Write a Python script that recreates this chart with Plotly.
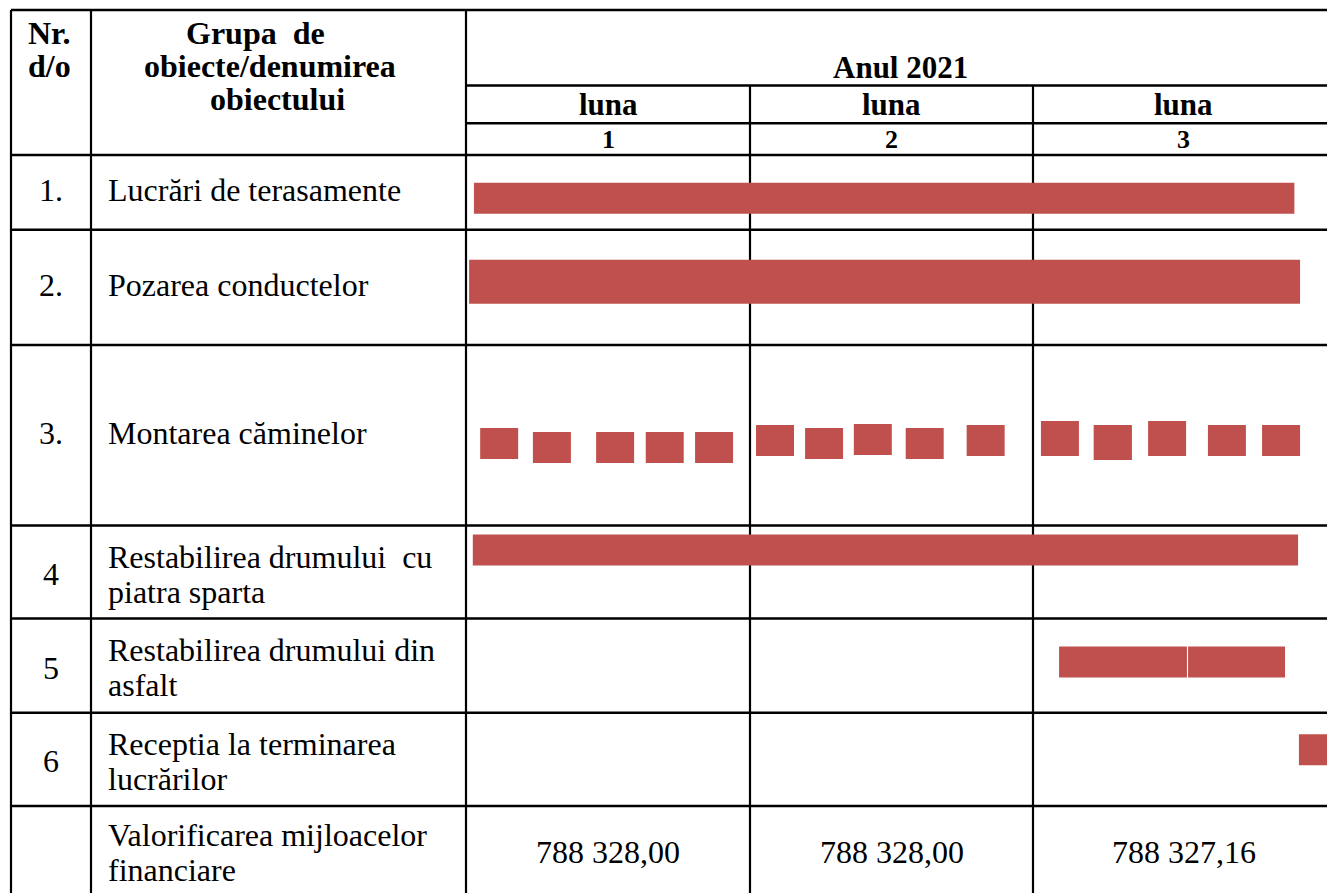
import plotly.graph_objects as go

# ---------------- data ----------------
nr_labels = ["1.", "2.", "3.", "4", "5", "6", ""]
task_names = [
    ["Lucrări de terasamente"],
    ["Pozarea conductelor"],
    ["Montarea căminelor"],
    ["Restabilirea drumului  cu", "piatra sparta"],
    ["Restabilirea drumului din", "asfalt"],
    ["Receptia la terminarea", "lucrărilor"],
    ["Valorificarea mijloacelor", "financiare"],
]
year_label = "Anul 2021"
month_word = "luna"
month_numbers = ["1", "2", "3"]
monthly_values = ["788 328,00", "788 328,00", "788 327,16"]

# task bars: (row index, start month, end month)  (months counted from 0)
bar_rows = [0, 1,
            2, 2, 2, 2, 2, 2, 2, 2, 2, 2, 2, 2, 2, 2, 2,
            3, 4, 4, 5]
bar_start = [0.028, 0.011,
             0.050, 0.236, 0.459, 0.634, 0.808,
             1.023, 1.196, 1.368, 1.551, 1.766,
             2.028, 2.214, 2.406, 2.617, 2.808,
             0.024, 2.092, 2.547, 2.938]
bar_end = [2.922, 2.942,
           0.184, 0.370, 0.593, 0.768, 0.942,
           1.157, 1.330, 1.502, 1.685, 1.900,
           2.162, 2.349, 2.540, 2.751, 2.942,
           2.935, 2.543, 2.889, 3.060]

# ---------------- layout geometry (pixels) ----------------
W, H = 1327, 893
col_x = [11, 91, 466, 750, 1033, 1334]
row_y = [155, 229.7, 345, 525.5, 618.5, 712.7, 806, 893]
hdr_y = [10, 85.5, 123.3, 155]
month_w = 283.5
m0 = col_x[2]

# bar vertical placement (offset from row centre, thickness) per bar
bar_dy = [6, -5.5,
          8.25, 12.25, 12.25, 12.25, 12.25,
          5.25, 8.25, 4.25, 8.25, 5.25,
          3.25, 7.25, 3.25, 5.25, 5.25,
          -22, -3.5, -3.5, -9.5]
bar_h = [31, 44,
         31, 31, 31, 31, 31,
         31, 31, 31, 31, 31,
         35, 35, 35, 31, 31,
         31, 31, 31, 31]

row_c = [(row_y[i] + row_y[i + 1]) / 2 for i in range(len(row_y) - 1)]

fig = go.Figure()
fig.add_trace(go.Bar(
    orientation="h",
    base=bar_start,
    x=[e - s for s, e in zip(bar_start, bar_end)],
    y=[row_c[r] + d for r, d in zip(bar_rows, bar_dy)],
    width=bar_h,
    marker=dict(color="#C0504D", line=dict(width=0)),
    xaxis="x2", yaxis="y",
    hoverinfo="skip", showlegend=False,
))

shapes = []
def hline(y, x0, x1, w=2.5):
    shapes.append(dict(type="line", xref="x", yref="y", x0=x0, x1=x1, y0=y, y1=y,
                       line=dict(color="black", width=w), layer="above"))
def vline(x, y0, y1, w=2.2):
    shapes.append(dict(type="line", xref="x", yref="y", x0=x, x1=x, y0=y0, y1=y1,
                       line=dict(color="black", width=w), layer="below"))

hline(hdr_y[0], col_x[0], W + 10)
hline(hdr_y[1], col_x[2], W + 10)
hline(hdr_y[2], col_x[2], W + 10)
for y in row_y[:-1]:
    hline(y, col_x[0], W + 10)
for x in col_x[:3]:
    vline(x, hdr_y[0], H + 5)
for x in col_x[3:5]:
    vline(x, hdr_y[1], H + 5)

ann = []
serif = "Liberation Serif, Times New Roman, serif"
def text(x, y, s, size=32, bold=False, xanchor="center"):
    ann.append(dict(x=x, y=y, xref="x", yref="y", text=("<b>%s</b>" % s) if bold else s,
                    showarrow=False, xanchor=xanchor, yanchor="middle",
                    font=dict(family=serif, size=size, color="black")))

# header
text(26, 33, "Nr.", size=32, bold=True, xanchor="left")
text(26, 66, "d/o", size=32, bold=True, xanchor="left")
text(255, 33, "Grupa&nbsp;&nbsp;de", size=32, bold=True)
text(270, 66, "obiecte/denumirea", size=32, bold=True)
text(277, 99, "obiectului", size=32, bold=True)
month_c = [(col_x[i] + col_x[i + 1]) / 2 for i in range(2, 5)]
text((col_x[2] + col_x[5]) / 2, 67, year_label, size=31, bold=True)
for c, n in zip(month_c, month_numbers):
    text(c, 104, month_word, size=31, bold=True)
    text(c, 139, n, size=26, bold=True)

# body
line_gap = 35
for i, (nr, lines) in enumerate(zip(nr_labels, task_names)):
    c = row_c[i] + (-2 if i < 3 else 2)
    if i == 6:
        c = 852
    if nr:
        text(51, c, nr)
    if len(lines) == 1:
        text(106, c, lines[0], xanchor="left")
    else:
        text(106, c - line_gap / 2, lines[0], xanchor="left")
        text(106, c + line_gap / 2, lines[1], xanchor="left")
for c, v in zip(month_c, monthly_values):
    text(c, 852, v)

fig.update_layout(
    width=W, height=H,
    margin=dict(l=0, r=0, t=0, b=0, pad=0),
    paper_bgcolor="white", plot_bgcolor="rgba(0,0,0,0)",
    barmode="overlay",
    xaxis=dict(range=[0, W], domain=[0, 1], visible=False, fixedrange=True),
    xaxis2=dict(range=[0, (W - m0) / month_w], domain=[m0 / W, 1], anchor="y",
                visible=False, fixedrange=True),
    yaxis=dict(range=[H, 0], domain=[0, 1], visible=False, fixedrange=True),
    shapes=shapes, annotations=ann,
)
fig.write_html(
    "out.html",
    config={"displayModeBar": False},
    post_script="document.body.style.margin='0';document.body.style.overflow='hidden';",
)
